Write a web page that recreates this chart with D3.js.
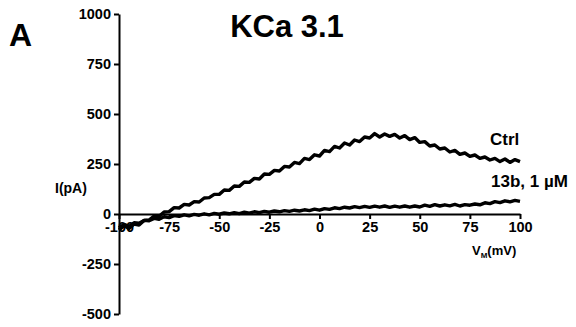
<!DOCTYPE html>
<html>
<head>
<meta charset="utf-8">
<script src="https://cdn.jsdelivr.net/npm/d3@7"></script>
<style>
  html, body { margin: 0; padding: 0; background: #fff; }
  svg { display: block; font-family: "Liberation Sans", Arial, sans-serif; font-weight: bold; }
</style>
</head>
<body>
<svg id="chart" width="576" height="327"></svg>
<script>
// Membrane potential sampling (mV), 2.5 mV steps
const voltage = d3.range(-100, 100.01, 2.5);

// Ramp current (pA), control
const ctrlCurrent = [
  -80, -58, -72, -50, -55, -32, -30, -10, -12, 10,
  12, 32, 30, 48, 45, 62, 60, 80, 82, 98,
  98, 120, 118, 140, 138, 160, 158, 178, 175, 200,
  198, 218, 215, 238, 235, 258, 252, 278, 272, 296,
  290, 318, 312, 338, 330, 355, 345, 370, 362, 385,
  380, 402, 385, 400, 388, 398, 380, 392, 372, 382,
  358, 362, 340, 345, 325, 330, 310, 318, 298, 305,
  288, 295, 278, 285, 270, 278, 262, 275, 258, 272,
  262
];

// Ramp current (pA) with 13b, 1 µM
const drugCurrent = [
  -70, -52, -62, -44, -46, -32, -34, -22, -26, -14,
  -18, -8, -12, -4, -9, -2, -6, 1, -4, 3,
  -1, 5, 1, 7, 2, 9, 4, 11, 7, 13,
  9, 15, 11, 17, 13, 19, 15, 21, 17, 24,
  19, 27, 23, 31, 27, 34, 30, 37, 32, 38,
  33, 39, 34, 40, 33, 39, 34, 40, 34, 40,
  35, 44, 38, 47, 40, 46, 41, 48, 40, 47,
  44, 50, 46, 56, 52, 62, 57, 66, 61, 68,
  63
];

const xTicks = [-100, -75, -50, -25, 0, 25, 50, 75, 100];
const yTicks = [-500, -250, 0, 250, 500, 750, 1000];

const svg = d3.select("#chart");

const x = d3.scaleLinear().domain([-100, 100]).range([119, 520]);
const y = d3.scaleLinear().domain([-500, 1000]).range([314, 14]);

// Traces
const line = d3.line()
  .x((d, i) => x(voltage[i]))
  .y(d => y(d));

[ctrlCurrent, drugCurrent].forEach(series => {
  svg.append("path")
    .datum(series)
    .attr("d", line)
    .attr("fill", "none")
    .attr("stroke", "#000")
    .attr("stroke-width", 3.4)
    .attr("stroke-linejoin", "round");
});

const plain = d => String(d);

// Y axis
const yAxis = svg.append("g")
  .attr("transform", `translate(${x(-100)},0)`)
  .call(d3.axisLeft(y).tickValues(yTicks).tickFormat(plain)
    .tickSize(5).tickSizeOuter(0).tickPadding(3));

// X axis along I = 0
const xAxis = svg.append("g")
  .attr("transform", `translate(0,${y(0)})`)
  .call(d3.axisBottom(x).tickValues(xTicks).tickFormat(plain)
    .tickSize(5).tickSizeOuter(0).tickPadding(3));

[yAxis, xAxis].forEach(g => {
  g.select(".domain").attr("stroke", "#000").attr("stroke-width", 2);
  g.selectAll(".tick line").attr("stroke", "#000").attr("stroke-width", 2);
  g.selectAll(".tick text")
    .attr("fill", "#000")
    .style("font-family", "'Liberation Sans', Arial, sans-serif")
    .style("font-weight", "bold")
    .style("font-size", "14.5px");
});

// Panel letter and title
svg.append("text").attr("x", 9).attr("y", 46)
  .style("font-size", "32px").text("A");
svg.append("text").attr("x", 287).attr("y", 37)
  .attr("text-anchor", "middle")
  .style("font-size", "31px").text("KCa 3.1");

// Axis titles
svg.append("text").attr("x", 55).attr("y", 193)
  .style("font-size", "14px").text("I(pA)");

const vt = svg.append("text").attr("x", 472).attr("y", 255)
  .style("font-size", "13px");
vt.append("tspan").text("V");
vt.append("tspan").attr("dy", 3).style("font-size", "8px").text("M");
vt.append("tspan").attr("dy", -3).text("(mV)");

// Trace labels
svg.append("text").attr("x", 490).attr("y", 145)
  .style("font-size", "17px").text("Ctrl");
svg.append("text").attr("x", 491).attr("y", 187)
  .style("font-size", "17px").text("13b, 1 µM");
</script>
</body>
</html>
